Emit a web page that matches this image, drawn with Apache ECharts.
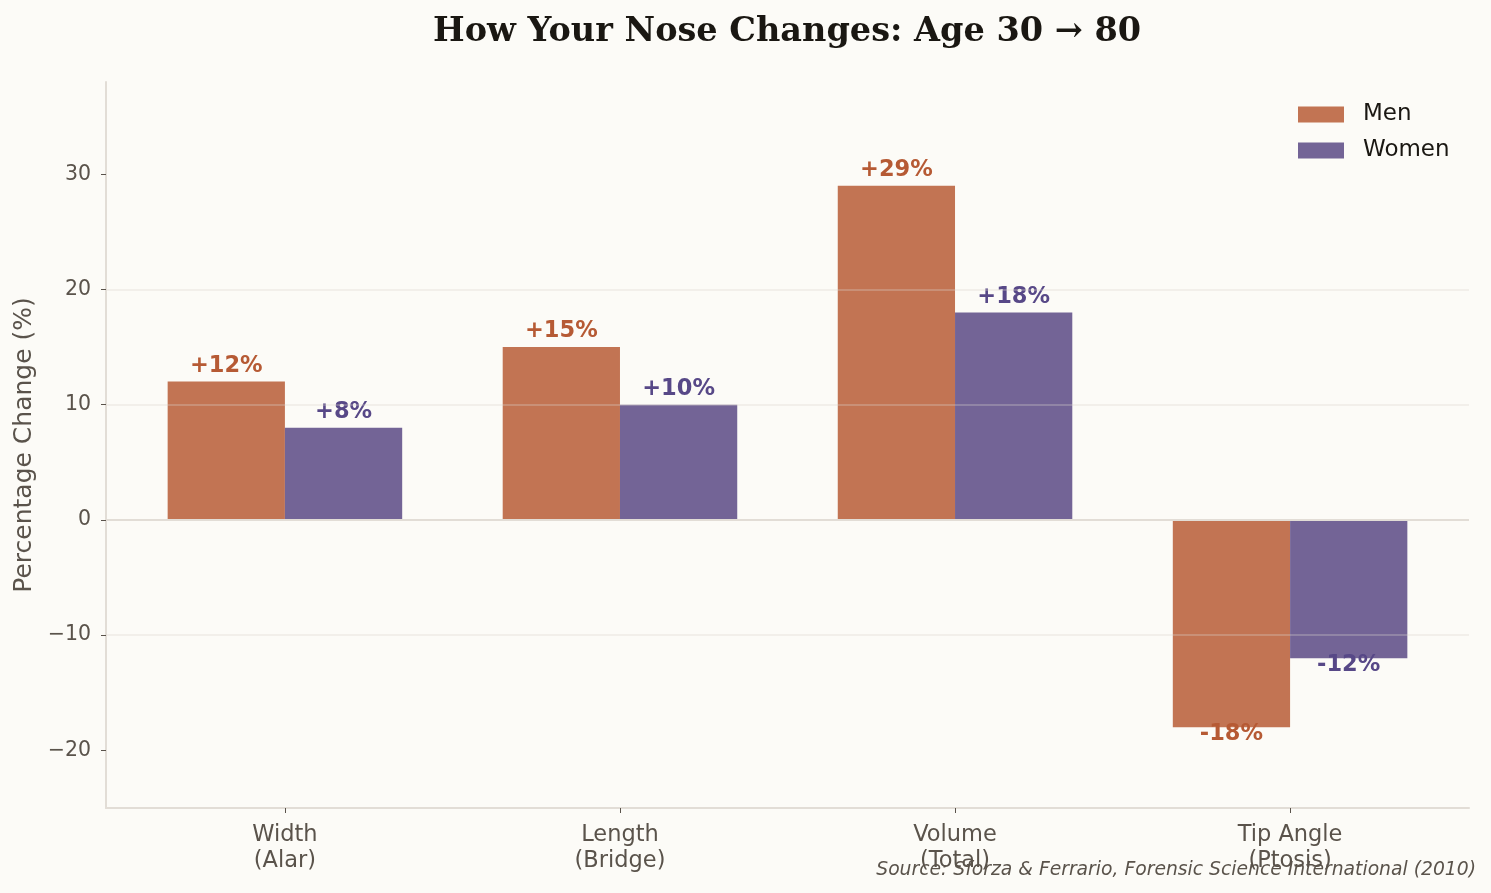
<!DOCTYPE html>
<html>
<head>
<meta charset="utf-8">
<script src="https://cdn.jsdelivr.net/npm/echarts@6/dist/echarts.min.js"></script>
<style>
html,body{margin:0;padding:0;background:#fcfbf7;}
#chart{width:1491px;height:893px;}
</style>
</head>
<body>
<div id="chart"></div>
<script>
const categories = ['Width\n(Alar)', 'Length\n(Bridge)', 'Volume\n(Total)', 'Tip Angle\n(Ptosis)'];
const menValues = [12, 15, 29, -18];
const womenValues = [8, 10, 18, -12];
const yTickValues = [-20, -10, 0, 10, 20, 30];
const xTickValues = [0, 1, 2, 3];

const MEN = '#c27453', WOMEN = '#736496';
const MEN_TXT = '#b65a34', WOMEN_TXT = '#574887';
const GRAY = '#5a534b';

function fmt(v) { return (v > 0 ? '+' : '') + v + '%'; }
function toData(vals) {
  return vals.map((v, i) => ({
    value: [i, v],
    label: { position: v >= 0 ? 'top' : 'bottom', distance: v >= 0 ? 4 : -5 }
  }));
}
const labelStyle = (c) => ({
  show: true, color: c, fontFamily: 'DejaVu Sans', fontWeight: 'bold', fontSize: 22.5,
  formatter: p => fmt(p.value[1])
});

const chart = echarts.init(document.getElementById('chart'));
chart.setOption({
  backgroundColor: '#fcfbf7',
  animation: false,
  title: [{
    text: 'How Your Nose Changes: Age 30 → 80',
    left: 428, top: 10,
    textStyle: { fontFamily: 'DejaVu Serif', fontWeight: 'bold', fontSize: 33.5, color: '#1a1712' }
  }, {
    text: 'Source: Sforza & Ferrario, Forensic Science International (2010)',
    right: 10, bottom: 8,
    textStyle: { fontFamily: 'DejaVu Sans', fontStyle: 'italic', fontWeight: 'normal', fontSize: 18.75, color: GRAY }
  }],
  legend: {
    orient: 'vertical', left: 1293, top: 98,
    itemWidth: 46, itemHeight: 16, itemGap: 13,
    icon: 'rect',
    textStyle: { fontFamily: 'DejaVu Sans', fontSize: 23, color: '#1a1712', padding: [0, 0, 0, 14] },
    data: ['Men', 'Women']
  },
  grid: { left: 106, right: 22, top: 82, bottom: 85, containLabel: false },
  xAxis: {
    type: 'value', min: -0.534, max: 3.534,
    axisLine: { show: true, onZero: false, lineStyle: { color: '#e2ddd6', width: 2 } },
    axisTick: { show: true, length: 5, customValues: xTickValues, lineStyle: { color: GRAY, width: 1 } },
    axisLabel: {
      customValues: xTickValues, margin: 14,
      fontFamily: 'DejaVu Sans', fontSize: 22.5, lineHeight: 26, color: GRAY,
      formatter: v => categories[Math.round(v)] || ''
    },
    splitLine: { show: false }
  },
  yAxis: {
    type: 'value', min: -25, max: 38, z: 3,
    name: 'Percentage Change (%)', nameLocation: 'middle', nameGap: 64,
    nameTextStyle: { fontFamily: 'DejaVu Sans', fontSize: 25, color: GRAY },
    axisLine: { show: true, onZero: false, lineStyle: { color: '#e2ddd6', width: 2 } },
    axisTick: { show: true, length: 5, customValues: yTickValues, lineStyle: { color: GRAY, width: 1 } },
    axisLabel: {
      customValues: yTickValues, margin: 15,
      fontFamily: 'DejaVu Sans', fontSize: 20.5, color: GRAY,
      formatter: v => String(v).replace('-', '\u2212')
    },
    splitLine: { show: true, showMinLine: false, showMaxLine: false, lineStyle: { color: 'rgba(217,212,205,0.4)', width: 1.5 } }
  },
  series: [{
    name: 'Men', type: 'bar', barWidth: '35%', barGap: '0%',
    itemStyle: { color: MEN },
    label: labelStyle(MEN_TXT),
    data: toData(menValues),
    markLine: {
      silent: true, symbol: 'none', z: 6,
      label: { show: false },
      lineStyle: { color: '#e2ddd6', width: 2, type: 'solid' },
      data: [{ yAxis: 0 }]
    }
  }, {
    name: 'Women', type: 'bar', barWidth: '35%', barGap: '0%',
    itemStyle: { color: WOMEN },
    label: labelStyle(WOMEN_TXT),
    data: toData(womenValues)
  }]
});
</script>
</body>
</html>
